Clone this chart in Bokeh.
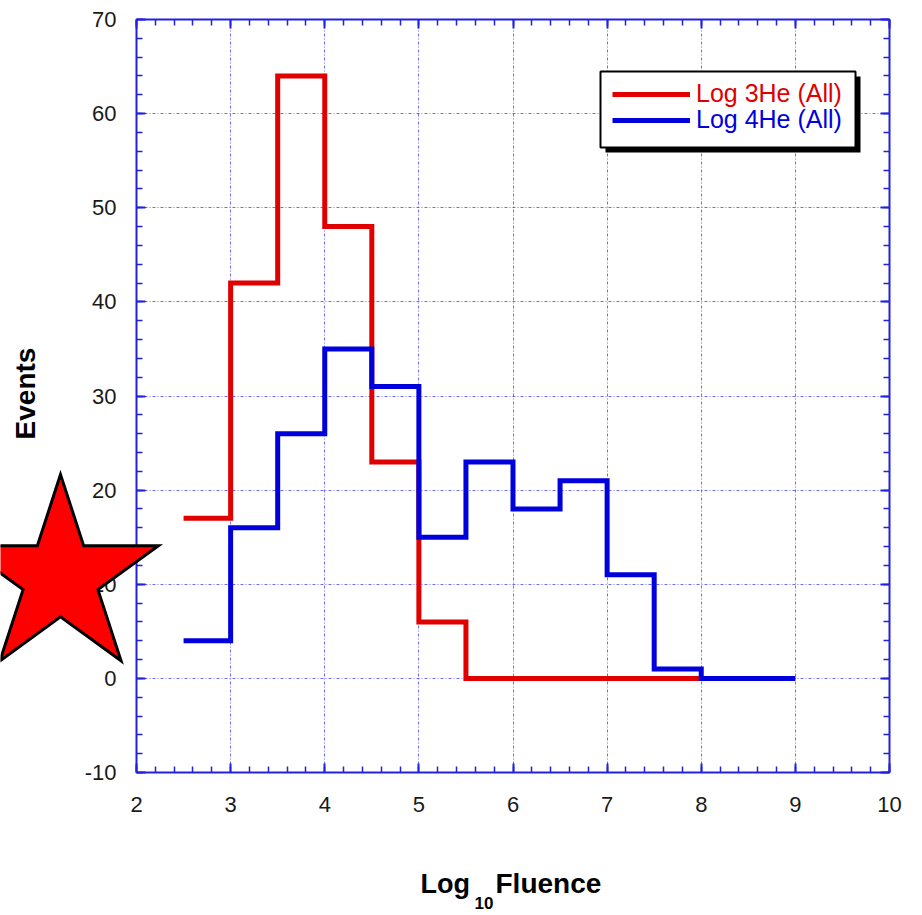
import numpy as np
from bokeh.plotting import figure
from bokeh.models import (Range1d, SingleIntervalTicker, LinearAxis, Legend, LegendItem,
                          PolyAnnotation, BoxAnnotation, Label, Grid)
from bokeh.embed import file_html
from bokeh.resources import INLINE

# Histogram of log10 fluence, bins of width 0.5 (edges and counts per bin)
he3_edges = [2.5, 3.0, 3.5, 4.0, 4.5, 5.0, 5.5, 6.0, 6.5, 7.0, 7.5, 8.0]
he3_counts = [17, 42, 64, 48, 23, 6, 0, 0, 0, 0, 0]
he4_edges = [2.5, 3.0, 3.5, 4.0, 4.5, 5.0, 5.5, 6.0, 6.5, 7.0, 7.5, 8.0, 8.5, 9.0]
he4_counts = [4, 16, 26, 35, 31, 15, 23, 18, 21, 11, 1, 0, 0]

series_names = ["Log 3He (All)", "Log 4He (All)"]
x_ticks = [2, 3, 4, 5, 6, 7, 8, 9, 10]
y_ticks = [-10, 0, 10, 20, 30, 40, 50, 60, 70]

RED = "#e00000"
BLUE = "#0000dd"
AXIS = "#2222dd"
GRID = "#3b3bf0"
FONT = "Liberation Sans"

W, H = 922, 915
FL, FR, FT, FB = 136, 889, 19, 772   # plotting box edges in page pixels

# The frame spans the whole page; the ranges are widened so that the
# box [2, 10] x [-10, 70] lands on the pixel edges above.
kx = (FR - FL) / (x_ticks[-1] - x_ticks[0])
ky = (FB - FT) / (y_ticks[-1] - y_ticks[0])
x_range = Range1d(x_ticks[0] - FL / kx, x_ticks[-1] + (W - FR) / kx)
y_range = Range1d(y_ticks[0] - (H - FB) / ky, y_ticks[-1] + FT / ky)

p = figure(width=W, height=H, output_backend="svg", toolbar_location=None,
           x_range=x_range, y_range=y_range, min_border=0,
           x_axis_location=None, y_axis_location=None)
p.outline_line_color = None
p.background_fill_color = "white"
p.border_fill_color = "white"
p.grid.visible = False

xt = SingleIntervalTicker(interval=1, num_minor_ticks=5)
yt = SingleIntervalTicker(interval=10, num_minor_ticks=5)


def make_axis(ticker, fixed, bounds, labels):
    ax = LinearAxis(ticker=ticker, fixed_location=fixed, bounds=bounds)
    ax.axis_line_color = AXIS
    ax.axis_line_width = 2
    ax.major_tick_line_color = AXIS
    ax.minor_tick_line_color = AXIS
    ax.major_tick_line_width = 2
    ax.minor_tick_line_width = 1.5
    ax.major_tick_in = 9
    ax.major_tick_out = 0
    ax.minor_tick_in = 6
    ax.minor_tick_out = 0
    ax.major_label_text_font = FONT
    ax.major_label_text_font_size = "22px"
    ax.major_label_text_color = "#1a1a1a"
    if not labels:
        ax.major_label_overrides = {t: "" for t in range(-20, 80)}
    return ax


xbounds = (x_ticks[0], x_ticks[-1])
ybounds = (y_ticks[0], y_ticks[-1])

xb = make_axis(xt, y_ticks[0], xbounds, True)
xb.major_label_standoff = 24
yl = make_axis(yt, x_ticks[0], ybounds, True)
yl.major_label_standoff = 20
yl.major_label_overrides = {t: str(t) for t in y_ticks}
p.add_layout(xb, "below")
p.add_layout(yl, "left")
p.add_layout(make_axis(xt, y_ticks[-1], xbounds, False), "above")
p.add_layout(make_axis(yt, x_ticks[-1], ybounds, False), "right")

# Dotted grid inside the box
if "cross_bounds" in Grid.properties():
    for dim, tk, b, cb in ((0, xt, xbounds, ybounds), (1, yt, ybounds, xbounds)):
        p.add_layout(Grid(dimension=dim, ticker=tk, bounds=b, cross_bounds=cb,
                          grid_line_color=GRID, grid_line_dash="3 2 1 2",
                          grid_line_width=1, grid_line_alpha=0.75))
else:
    gx = x_ticks[1:-1]
    gy = y_ticks[1:-1]
    p.multi_line([[v, v] for v in gx], [list(ybounds)] * len(gx), line_color=GRID,
                 line_dash="3 2 1 2", line_width=1, line_alpha=0.75)
    p.multi_line([list(xbounds)] * len(gy), [[v, v] for v in gy], line_color=GRID,
                 line_dash="3 2 1 2", line_width=1, line_alpha=0.75)

# Step outlines of the two histograms (4He on top)
r3 = p.step(he3_edges, he3_counts + he3_counts[-1:], mode="after",
            line_color=RED, line_width=5, line_join="miter")
r4 = p.step(he4_edges, he4_counts + he4_counts[-1:], mode="after",
            line_color=BLUE, line_width=5, line_join="miter")


def sx(px):
    return px


def sy(py):
    return H - py


def screen_box(l, r, t, b, **kw):
    return BoxAnnotation(left=sx(l), right=sx(r), top=sy(t), bottom=sy(b),
                         left_units="screen", right_units="screen",
                         top_units="screen", bottom_units="screen", level="overlay", **kw)


# Legend frame with drop shadow
box_l, box_r, box_t, box_b = 600, 855, 71, 147
p.add_layout(screen_box(box_l + 5, box_r + 5, box_t + 5, box_b + 5,
                        fill_color="black", fill_alpha=1, line_color=None))
p.add_layout(screen_box(box_l, box_r, box_t, box_b, fill_color="white", fill_alpha=1,
                        line_color="black", line_alpha=1, line_width=2))

for name, rend, color, cy in ((series_names[0], r3, RED, 96), (series_names[1], r4, BLUE, 122)):
    lg = Legend(items=[LegendItem(label=name, renderers=[rend])],
                location=(sx(612), sy(cy) - 12), glyph_width=78, glyph_height=24,
                label_height=24, label_standoff=6, padding=0, margin=0, spacing=0,
                border_line_color=None, background_fill_alpha=0,
                label_text_font=FONT, label_text_font_size="25px",
                label_text_color=color, level="overlay")
    p.add_layout(lg)

# Axis titles
title_style = dict(x_units="screen", y_units="screen", text_font=FONT,
                   text_font_style="bold", text_color="black")
p.add_layout(Label(x=sx(25), y=sy(393), text="Events", angle=np.pi / 2,
                   text_font_size="28px", text_align="center", text_baseline="middle",
                   **title_style))
p.add_layout(Label(x=sx(420), y=sy(883), text="Log", text_font_size="27px",
                   text_align="left", text_baseline="alphabetic", **title_style))
p.add_layout(Label(x=sx(474), y=sy(902), text="10", text_font_size="17px",
                   text_align="left", text_baseline="alphabetic", **title_style))
p.add_layout(Label(x=sx(495), y=sy(883), text="Fluence", text_font_size="28px",
                   text_align="left", text_baseline="alphabetic", **title_style))

# Red five-pointed star over the left axis
cx, cy, R = 60, 577, 103
ang = np.pi / 2 + np.arange(10) * np.pi / 5
rad = np.where(np.arange(10) % 2 == 0, R, R * 0.382)
star_x = [sx(cx + r * np.cos(a)) for r, a in zip(rad, ang)]
star_y = [sy(cy - r * np.sin(a)) for r, a in zip(rad, ang)]
p.add_layout(PolyAnnotation(xs=star_x, ys=star_y, xs_units="screen", ys_units="screen",
                            fill_color="#ff0000", fill_alpha=1, line_color="black",
                            line_alpha=1, line_width=3, line_join="miter", level="overlay"))

open("out.html", "w").write(file_html(p, INLINE))
